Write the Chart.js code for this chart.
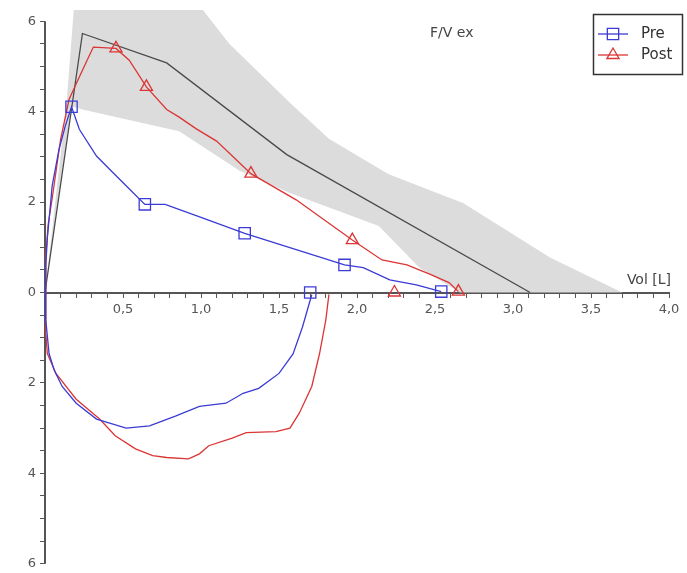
<!DOCTYPE html>
<html>
<head>
<meta charset="utf-8">
<script src="https://cdn.jsdelivr.net/npm/chart.js@4.4.1/dist/chart.umd.min.js"></script>
<style>
  html, body { margin: 0; padding: 0; background: #fff; }
  #wrap { width: 687px; height: 573px; }
</style>
</head>
<body>
<div id="wrap"><canvas id="fvChart"></canvas></div>
<script>
// Flow / volume loop: Pre vs Post, predicted curve and predicted range

// Pre - expiration (Vol [L], flow [L/s])
const preExpVol  = [0, 0.005, 0.015, 0.046, 0.09, 0.13, 0.17, 0.22, 0.33, 0.43, 0.52, 0.64, 0.77, 1.0, 1.28, 1.6, 1.92, 2.04, 2.21, 2.38, 2.54];
const preExpFlow = [0, 0.6, 1.2, 2.36, 3.17, 3.68, 4.11, 3.61, 3.02, 2.67, 2.36, 1.95, 1.95, 1.66, 1.31, 0.96, 0.61, 0.55, 0.28, 0.17, 0.02];
// Pre - inspiration (negative flow)
const preInspVol  = [0, 0.005, 0.026, 0.058, 0.11, 0.2, 0.33, 0.52, 0.67, 0.84, 0.99, 1.16, 1.27, 1.37, 1.5, 1.59, 1.65, 1.71];
const preInspFlow = [0, -0.61, -1.35, -1.71, -2.08, -2.45, -2.8, -3.0, -2.95, -2.73, -2.52, -2.45, -2.23, -2.12, -1.79, -1.36, -0.77, -0.05];
// Pre - markers
const preMarkVol  = [0.17, 0.64, 1.28, 1.92, 2.54, 1.7];
const preMarkFlow = [4.11, 1.95, 1.31, 0.61, 0.02, 0];

// Post - expiration
const postExpVol  = [0, 0.005, 0.02, 0.046, 0.1, 0.154, 0.22, 0.27, 0.31, 0.455, 0.54, 0.65, 0.78, 0.86, 0.97, 1.1, 1.32, 1.61, 1.97, 2.16, 2.32, 2.47, 2.59, 2.65];
const postExpFlow = [0, 0.8, 1.5, 2.08, 3.39, 4.27, 4.77, 5.14, 5.43, 5.4, 5.14, 4.55, 4.05, 3.88, 3.62, 3.35, 2.63, 2.05, 1.16, 0.72, 0.61, 0.4, 0.22, 0.02];
// Post - inspiration
const postInspVol  = [0, 0.005, 0.015, 0.07, 0.2, 0.35, 0.45, 0.58, 0.69, 0.78, 0.92, 0.99, 1.05, 1.2, 1.29, 1.48, 1.57, 1.63, 1.71, 1.76, 1.8, 1.82];
const postInspFlow = [0, -0.9, -1.35, -1.79, -2.36, -2.8, -3.17, -3.46, -3.61, -3.65, -3.68, -3.57, -3.39, -3.22, -3.1, -3.08, -3.0, -2.67, -2.08, -1.35, -0.61, -0.04];
// Post - markers
const postMarkVol  = [0.455, 0.65, 1.32, 1.97, 2.65, 2.24];
const postMarkFlow = [5.4, 4.55, 2.63, 1.16, 0.02, 0];

// Predicted curve
const predVol  = [0, 0.24, 0.78, 1.55, 3.11];
const predFlow = [0, 5.73, 5.08, 3.05, 0];

// Predicted range (closed outline, top runs past the axis max and gets clipped)
const rangeVol  = [0, 0.14, 0.19, 0.93, 1.01, 1.18, 1.57, 1.82, 2.2, 2.55, 2.68, 3.24, 3.7, 2.66, 2.4, 2.14, 1.57, 1.25, 0.86, 0.24, 0.17];
const rangeFlow = [0, 4.27, 6.5, 6.5, 6.26, 5.51, 4.2, 3.4, 2.62, 2.15, 1.98, 0.77, 0, 0, 0.55, 1.47, 2.2, 2.69, 3.57, 4.05, 4.12];

// Axis ticks
const xLabelStep = 0.5;
const yLabelStep = 2;

const xy = (xs, ys) => xs.map((x, i) => ({ x: x, y: ys[i] }));

const BLUE  = '#3b3bd6';
const RED   = '#dc3535';
const AXIS  = '#555';
const FONT  = "'DejaVu Sans', 'Liberation Sans', Arial, sans-serif";

// Texts, legend and y spine
const overlayPlugin = {
  id: 'overlay',
  beforeDatasetsDraw(chart) {
    const ctx = chart.ctx;
    const x = chart.scales.x, y = chart.scales.y;
    ctx.save();
    ctx.strokeStyle = AXIS;
    ctx.lineWidth = 2;
    ctx.beginPath();
    ctx.moveTo(x.getPixelForValue(0), y.getPixelForValue(6));
    ctx.lineTo(x.getPixelForValue(0), y.getPixelForValue(-6));
    ctx.stroke();
    ctx.restore();
  },
  afterDraw(chart) {
    const ctx = chart.ctx;
    ctx.save();
    ctx.font = '14px ' + FONT;
    ctx.fillStyle = '#444';
    ctx.textBaseline = 'middle';
    ctx.textAlign = 'left';
    ctx.fillText('F/V ex', 430, 33);
    ctx.textAlign = 'right';
    ctx.fillText('Vol [L]', 671, 280);

    // legend box
    ctx.strokeStyle = '#333';
    ctx.lineWidth = 1.5;
    ctx.strokeRect(593.5, 14.5, 89, 60);
    const rows = [
      { ds: chart.data.datasets[2], label: 'Pre',  y: 34 },
      { ds: chart.data.datasets[5], label: 'Post', y: 55 }
    ];
    rows.forEach(r => {
      ctx.strokeStyle = r.ds.borderColor;
      ctx.lineWidth = 1.3;
      ctx.beginPath();
      ctx.moveTo(598, r.y);
      ctx.lineTo(628, r.y);
      ctx.stroke();
      ctx.fillStyle = 'rgba(0,0,0,0)';
      Chart.helpers.drawPoint(ctx, {
        pointStyle: r.ds.pointStyle, radius: r.ds.pointRadius,
        rotation: 0, borderWidth: 1.3
      }, 613, r.y);
      ctx.fillStyle = '#333';
      ctx.textAlign = 'left';
      ctx.font = '15px ' + FONT;
      ctx.fillText(r.label, 641, r.y);
    });
    ctx.restore();
  }
};

const lineDs = (data, color, order) => ({
  data: data, borderColor: color, borderWidth: 1.3, pointRadius: 0,
  fill: false, tension: 0, order: order
});
const markDs = (data, color, style, radius) => ({
  data: data, borderColor: color, backgroundColor: 'rgba(0,0,0,0)',
  showLine: false, pointStyle: style, pointRadius: radius,
  pointBorderWidth: 1.3, order: 0
});

new Chart(document.getElementById('fvChart'), {
  type: 'line',
  data: {
    datasets: [
      { data: xy(rangeVol, rangeFlow), borderWidth: 0, pointRadius: 0,
        backgroundColor: '#dcdcdc', borderColor: 'rgba(0,0,0,0)', fill: 'shape', order: 9 },
      lineDs(xy(predVol, predFlow), '#4a4a4a', 8),
      markDs(xy(preMarkVol, preMarkFlow), BLUE, 'rect', 8),
      lineDs(xy(preExpVol, preExpFlow), BLUE, 1),
      lineDs(xy(preInspVol, preInspFlow), BLUE, 1),
      markDs(xy(postMarkVol, postMarkFlow), RED, 'triangle', 7),
      lineDs(xy(postExpVol, postExpFlow), RED, 2),
      lineDs(xy(postInspVol, postInspFlow), RED, 2)
    ]
  },
  options: {
    responsive: true,
    maintainAspectRatio: false,
    animation: false,
    layout: { padding: { left: 0, right: 18, top: 10, bottom: 6 } },
    plugins: { legend: { display: false }, tooltip: { enabled: false } },
    scales: {
      x: {
        type: 'linear',
        position: { y: 0 },
        min: 0, max: 4,
        border: { display: true, color: AXIS, width: 2 },
        grid: { drawOnChartArea: false, drawTicks: true, tickLength: 4, tickColor: AXIS },
        ticks: {
          stepSize: 0.1, autoSkip: false, maxRotation: 0, padding: 5,
          color: '#555', font: { family: FONT, size: 13 },
          callback: v => {
            const k = Math.round(v * 10);
            if (k === 0 || k % Math.round(xLabelStep * 10) !== 0) return '';
            return (k / 10).toFixed(1).replace('.', ',');
          }
        },
        afterFit: s => { s.height = 0; s.paddingLeft = 0; s.paddingRight = 0; }
      },
      y: {
        type: 'linear',
        position: 'left',
        min: -6, max: 6.25,
        border: { display: false },
        grid: { drawOnChartArea: false, drawTicks: true, tickLength: 5, tickColor: AXIS },
        ticks: {
          stepSize: 0.5, includeBounds: false, autoSkip: false, padding: 4,
          color: '#555', font: { family: FONT, size: 13 },
          callback: v => {
            const k = Math.round(v * 2);
            return k % (yLabelStep * 2) === 0 ? String(Math.abs(k / 2)) : '';
          }
        },
        afterFit: s => { s.width = 45; s.paddingTop = 0; s.paddingBottom = 0; }
      }
    }
  },
  plugins: [overlayPlugin]
});
</script>
</body>
</html>
